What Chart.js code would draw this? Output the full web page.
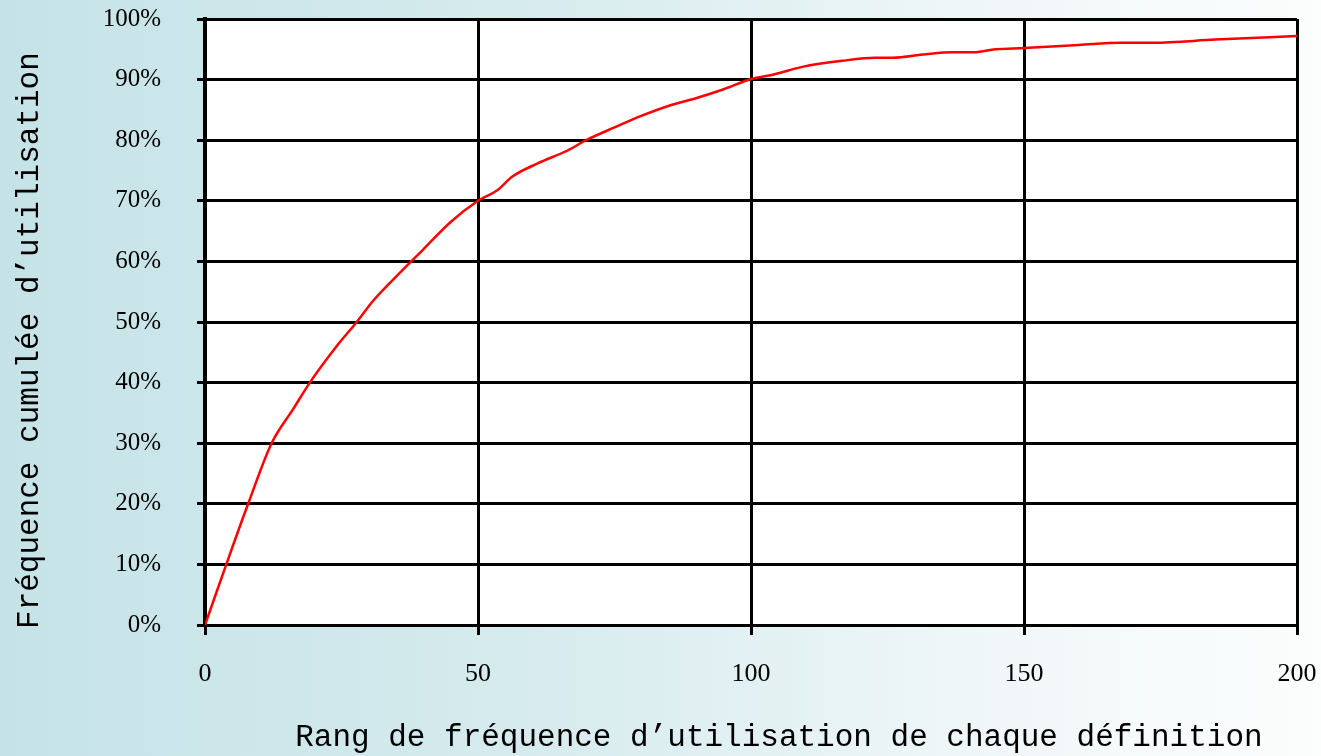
<!DOCTYPE html>
<html>
<head>
<meta charset="utf-8">
<script src="https://cdn.jsdelivr.net/npm/chart.js@4.4.1/dist/chart.umd.min.js"></script>
<style>
  html, body { margin: 0; padding: 0; }
  body { width: 1321px; height: 756px; overflow: hidden;
    background: linear-gradient(to right, rgb(197,227,231) 0%, rgb(214,235,238) 40%, rgb(240,247,248) 75%, rgb(252,253,253) 100%); }
  canvas { display: block; }
</style>
</head>
<body>
<canvas id="c" width="1321" height="756"></canvas>
<script>
const ranks = [0, 3.9, 7.9, 12.2, 16.2, 19.2, 24.1, 27.8, 30.8, 35, 40, 45, 50, 53.6, 56.3, 61, 66.4, 69.8, 75, 79.9, 85.4, 90.2, 95, 100, 104, 109.4, 116.7, 122.8, 125.9, 132, 136.9, 140.5, 144.8, 150, 160, 167.6, 173.7, 185, 200];
const cumPct = [0, 10, 20, 30, 35.7, 40, 46, 50, 53.5, 57.5, 62, 66.5, 70, 71.8, 74, 76.2, 78.3, 80, 82.1, 84, 85.8, 87, 88.4, 90.1, 90.8, 92.1, 93.1, 93.6, 93.6, 94.2, 94.5, 94.5, 95, 95.2, 95.7, 96.1, 96.1, 96.6, 97.2];
const xTicks = [0, 50, 100, 150, 200];
const yTickLabels = ['0%', '10%', '20%', '30%', '40%', '50%', '60%', '70%', '80%', '90%', '100%'];
const xTitle = 'Rang de fréquence d\u2019utilisation de chaque définition';
const yTitle = 'Fréquence cumulée d\u2019utilisation';

const plotBg = {
  id: 'plotBg',
  beforeDraw(chart) {
    const {ctx, chartArea: a} = chart;
    ctx.save();
    ctx.fillStyle = '#ffffff';
    ctx.fillRect(a.left, a.top, a.right - a.left, a.bottom - a.top);
    ctx.restore();
  }
};

new Chart(document.getElementById('c'), {
  type: 'line',
  data: {
    datasets: [{
      data: ranks.map((r, i) => ({x: r, y: cumPct[i]})),
      borderColor: '#ff0000',
      borderWidth: 2.5,
      pointRadius: 0,
      cubicInterpolationMode: 'monotone',
      fill: false
    }]
  },
  options: {
    responsive: false,
    animation: false,
    layout: { padding: { top: 19, right: 24, left: 0, bottom: 0 } },
    plugins: { legend: { display: false }, tooltip: { enabled: false } },
    scales: {
      x: {
        type: 'linear', min: 0, max: 200,
        afterBuildTicks: s => { s.ticks = xTicks.map(v => ({value: v})); },
        afterFit: s => { s.height = 131; s.paddingLeft = 0; s.paddingRight = 0; },
        grid: { color: '#000', lineWidth: 3, tickLength: 10, tickColor: '#000', tickWidth: 3 },
        border: { color: '#000', width: 3 },
        ticks: { color: '#000', padding: 24, maxRotation: 0, font: { family: 'Liberation Serif', size: 26 } },
        title: { display: true, text: '\u00a0\u00a0\u00a0' + xTitle, color: '#000', padding: { top: 0, bottom: 0 },
          font: { family: 'Liberation Mono', size: 31 } }
      },
      y: {
        min: 0, max: 100,
        ticks: { stepSize: 10, color: '#000', padding: 36, font: { family: 'Liberation Serif', size: 25 },
          callback: (v) => yTickLabels[Math.round(v / 10)] },
        afterFit: s => { s.width = 205; s.paddingTop = 0; s.paddingBottom = 0; },
        grid: { color: '#000', lineWidth: 3, tickLength: 8, tickColor: '#000', tickWidth: 3 },
        border: { color: '#000', width: 4 },
        title: { display: true, text: yTitle + '\u00a0\u00a0', color: '#000', padding: { top: 11, bottom: 0 },
          font: { family: 'Liberation Mono', size: 31 } }
      }
    }
  },
  plugins: [plotBg]
});
</script>
</body>
</html>
